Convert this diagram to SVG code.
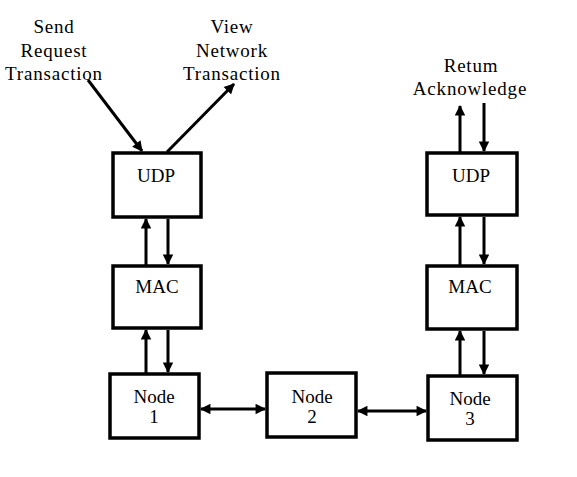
<svg xmlns="http://www.w3.org/2000/svg" width="577" height="477" viewBox="0 0 577 477">
<defs>
<marker id="ah" viewBox="0 0 10 10" refX="9" refY="5" markerWidth="3.8" markerHeight="3.5" orient="auto-start-reverse" markerUnits="strokeWidth">
<path d="M0,0 L10,5 L0,10 Z" fill="#000"/>
</marker>
<style>
.box{fill:#fff;stroke:#000;stroke-width:3.5}
.t{font-family:"Liberation Serif","Times New Roman",serif;font-size:19px;fill:#000;text-anchor:middle}
.lbl{font-family:"Liberation Serif","Times New Roman",serif;font-size:19px;fill:#000;text-anchor:middle;letter-spacing:0.8px}
.c{stroke:#000;stroke-width:3;fill:none;marker-end:url(#ah)}
.cb{stroke:#000;stroke-width:3;fill:none;marker-end:url(#ah);marker-start:url(#ah)}
</style>
</defs>
<rect width="577" height="477" fill="#fff"/>
<g id="labels">
<text class="lbl" x="54" y="33">Send</text>
<text class="lbl" x="54" y="57">Request</text>
<text class="lbl" x="54" y="80">Transaction</text>
<text class="lbl" x="232" y="33">View</text>
<text class="lbl" x="232" y="57">Network</text>
<text class="lbl" x="232" y="80">Transaction</text>
<text class="lbl" x="471" y="72">Retum</text>
<text class="lbl" x="470" y="95">Acknowledge</text>
</g>
<g id="udp1"><rect class="box" x="113" y="153" width="88" height="64"/><text class="t" x="156" y="182">UDP</text></g>
<g id="mac1"><rect class="box" x="113" y="266" width="88" height="62"/><text class="t" x="157" y="293">MAC</text></g>
<g id="node1"><rect class="box" x="110" y="374" width="89" height="64"/><text class="t" x="154" y="403">Node</text><text class="t" x="154" y="423">1</text></g>
<g id="node2"><rect class="box" x="267" y="373" width="89" height="64"/><text class="t" x="312" y="403">Node</text><text class="t" x="312" y="423">2</text></g>
<g id="node3"><rect class="box" x="428" y="376" width="89" height="64"/><text class="t" x="470" y="405">Node</text><text class="t" x="470" y="425">3</text></g>
<g id="udp3"><rect class="box" x="427" y="153" width="90" height="62"/><text class="t" x="471" y="182">UDP</text></g>
<g id="mac3"><rect class="box" x="427" y="266" width="90" height="63"/><text class="t" x="470" y="293">MAC</text></g>
<g id="connectors">
<line class="c" x1="88" y1="80" x2="142" y2="151"/>
<line class="c" x1="167" y1="152" x2="234" y2="84"/>
<line class="c" x1="146" y1="265" x2="146" y2="219"/>
<line class="c" x1="168" y1="219" x2="168" y2="264"/>
<line class="c" x1="146" y1="373" x2="146" y2="330"/>
<line class="c" x1="168" y1="330" x2="168" y2="372"/>
<line class="c" x1="460" y1="152" x2="460" y2="106"/>
<line class="c" x1="484" y1="103" x2="484" y2="151"/>
<line class="c" x1="460" y1="265" x2="460" y2="217"/>
<line class="c" x1="484" y1="217" x2="484" y2="264"/>
<line class="c" x1="460" y1="375" x2="460" y2="331"/>
<line class="c" x1="484" y1="331" x2="484" y2="374"/>
<line class="cb" x1="201" y1="409" x2="265" y2="409"/>
<line class="cb" x1="358" y1="411" x2="426" y2="411"/>
</g>
</svg>
